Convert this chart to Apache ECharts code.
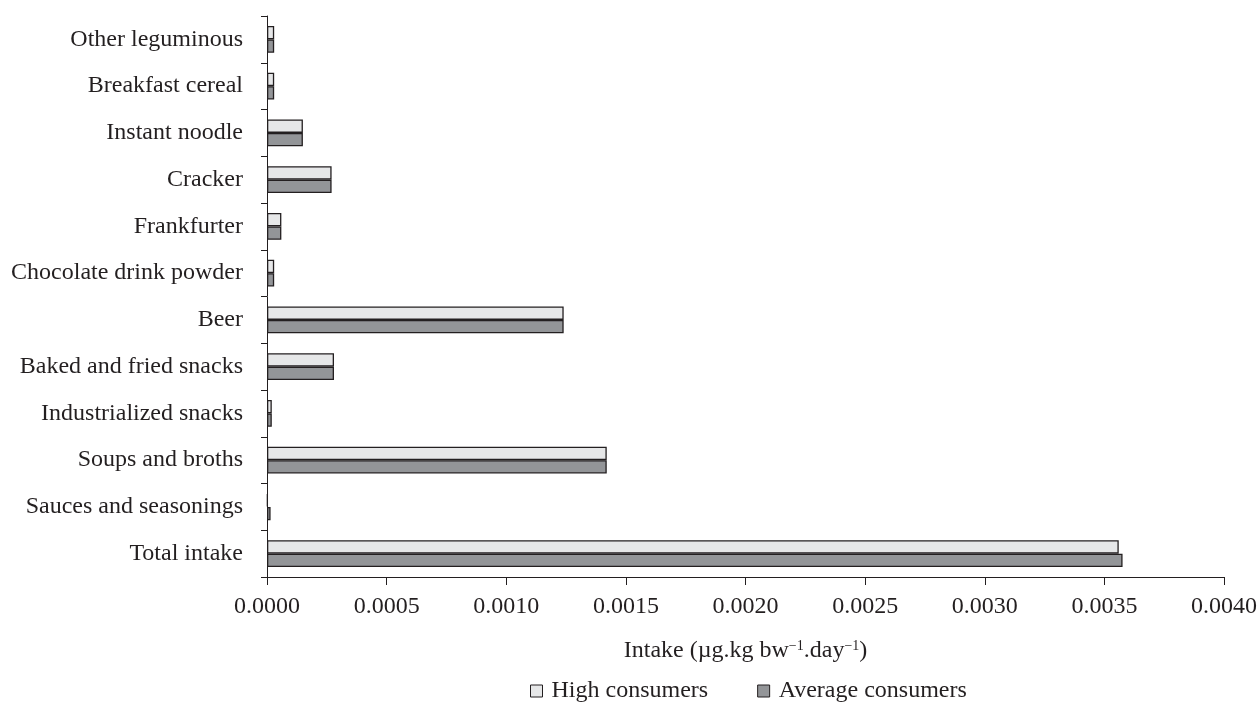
<!DOCTYPE html>
<html>
<head>
<meta charset="utf-8">
<script src="https://cdn.jsdelivr.net/npm/echarts@6/dist/echarts.min.js"></script>
<style>
  html, body { margin: 0; padding: 0; background: #ffffff; }
  #chart { width: 1260px; height: 703px; }
</style>
</head>
<body>
<div id="chart"></div>
<script>
// Food categories, listed bottom to top
const categories = [
  'Total intake',
  'Sauces and seasonings',
  'Soups and broths',
  'Industrialized snacks',
  'Baked and fried snacks',
  'Beer',
  'Chocolate drink powder',
  'Frankfurter',
  'Cracker',
  'Instant noodle',
  'Breakfast cereal',
  'Other leguminous'
];

// Intake (µg.kg bw⁻¹.day⁻¹)
const highConsumers = [
  0.00356, 0.000003, 0.00142, 0.00002, 0.00028, 0.00124,
  0.00003, 0.00006, 0.00027, 0.00015, 0.00003, 0.00003
];
const averageConsumers = [
  0.003576, 0.000015, 0.00142, 0.00002, 0.00028, 0.00124,
  0.00003, 0.00006, 0.00027, 0.00015, 0.00003, 0.00003
];

const xTicks = { min: 0, max: 0.004, interval: 0.0005 };

const font = 'Liberation Serif, DejaVu Serif, serif';
const ink = '#231f20';
const fs = 24;

const chart = echarts.init(document.getElementById('chart'), null, { renderer: 'canvas' });
chart.setOption({
  animation: false,
  backgroundColor: '#ffffff',
  grid: { left: 267, right: 34, top: 16, bottom: 126, containLabel: false },
  legend: {
    top: 674,
    left: 525,
    data: ['High consumers', 'Average consumers'],
    icon: 'rect',
    itemWidth: 12,
    itemHeight: 12,
    itemGap: 49,
    itemStyle: { borderColor: ink, borderWidth: 1 },
    textStyle: { fontFamily: font, fontSize: fs, color: ink, padding: [0, 0, 0, 4] }
  },
  xAxis: {
    type: 'value',
    min: xTicks.min,
    max: xTicks.max,
    interval: xTicks.interval,
    name: 'Intake (µg.kg bw{sup|−1}.day{sup|−1})',
    nameLocation: 'middle',
    nameGap: 62,
    nameTextStyle: {
      fontFamily: font, fontSize: fs, color: ink,
      rich: {
        sup: { fontFamily: font, fontSize: 14, color: ink, padding: [0, 0, 10, 0] }
      }
    },
    axisLine: { show: true, lineStyle: { color: ink, width: 1 } },
    axisTick: { show: true, length: 8, lineStyle: { color: ink, width: 1 } },
    axisLabel: {
      fontFamily: font, fontSize: fs, color: ink, margin: 18,
      formatter: v => v.toFixed(4)
    },
    splitLine: { show: false }
  },
  yAxis: {
    type: 'category',
    data: categories,
    axisLine: { show: true, lineStyle: { color: ink, width: 1 } },
    axisTick: { show: true, length: 6, lineStyle: { color: ink, width: 1 } },
    axisLabel: { fontFamily: font, fontSize: fs, color: ink, margin: 24 }
  },
  series: [
    {
      name: 'High consumers',
      type: 'bar',
      data: highConsumers,
      barGap: '0%',
      barCategoryGap: '43%',
      itemStyle: { color: '#e6e7e8', borderColor: ink, borderWidth: 1.3 }
    },
    {
      name: 'Average consumers',
      type: 'bar',
      data: averageConsumers,
      barGap: '0%',
      barCategoryGap: '43%',
      itemStyle: { color: '#939598', borderColor: ink, borderWidth: 1.3 }
    }
  ]
});
</script>
</body>
</html>
